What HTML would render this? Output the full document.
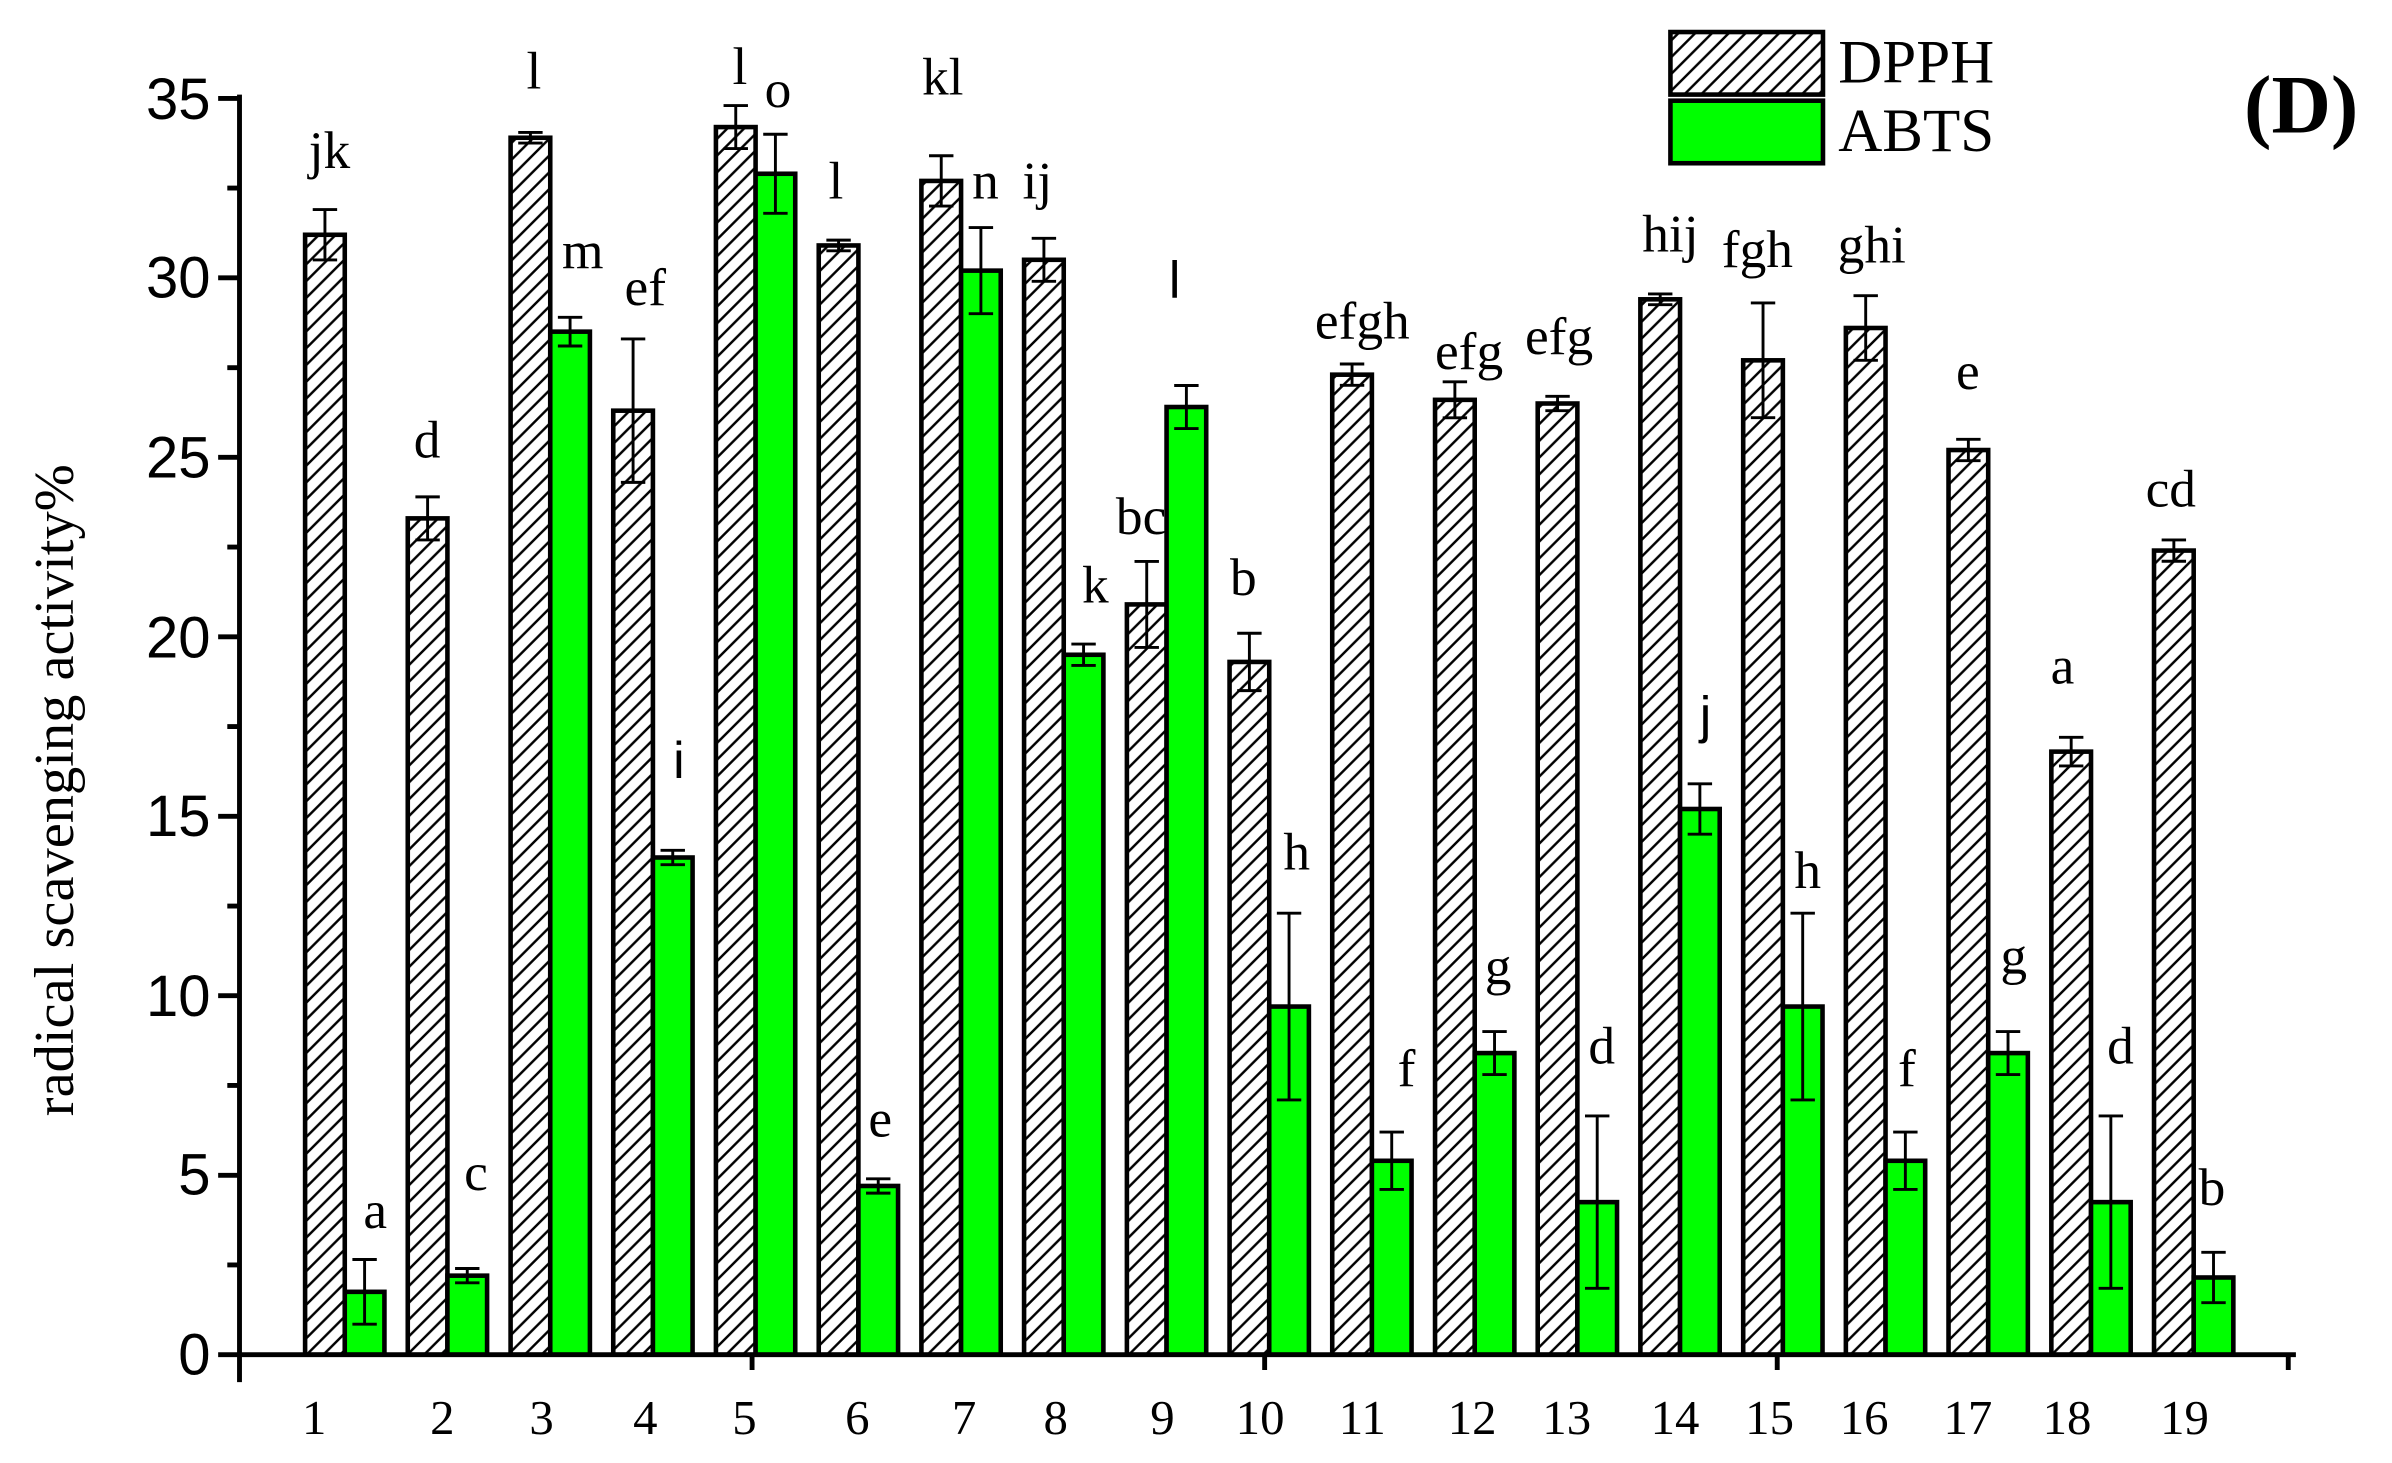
<!DOCTYPE html>
<html><head><meta charset="utf-8"><style>html,body{margin:0;padding:0;background:#fff}svg{display:block}</style></head>
<body>
<svg width="2392" height="1463" viewBox="0 0 1568 959" preserveAspectRatio="none" xmlns="http://www.w3.org/2000/svg">
<defs>
<pattern id="h" patternUnits="userSpaceOnUse" width="11" height="11">
<path d="M-2,13 L13,-2 M-2,2 L2,-2 M9,13 L13,9" stroke="#000" stroke-width="1.6"/>
</pattern>
</defs>
<rect width="1568" height="959" fill="#fff"/>
<g stroke="#000" stroke-width="3">
<g fill="url(#h)">
<rect x="200" y="153.9" width="26" height="734.1"/>
<rect x="267.3" y="339.8" width="26" height="548.2"/>
<rect x="334.7" y="90.3" width="26" height="797.7"/>
<rect x="402" y="269.2" width="26" height="618.8"/>
<rect x="469.3" y="83.3" width="26" height="804.7"/>
<rect x="536.7" y="160.9" width="26" height="727.1"/>
<rect x="604" y="118.6" width="26" height="769.4"/>
<rect x="671.3" y="170.3" width="26" height="717.7"/>
<rect x="738.7" y="396.2" width="26" height="491.8"/>
<rect x="806" y="433.9" width="26" height="454.1"/>
<rect x="873.3" y="245.6" width="26" height="642.4"/>
<rect x="940.7" y="262.1" width="26" height="625.9"/>
<rect x="1008" y="264.5" width="26" height="623.5"/>
<rect x="1075.3" y="196.2" width="26" height="691.8"/>
<rect x="1142.7" y="236.2" width="26" height="651.8"/>
<rect x="1210" y="215" width="26" height="673"/>
<rect x="1277.3" y="295" width="26" height="593"/>
<rect x="1344.7" y="492.7" width="26" height="395.3"/>
<rect x="1412" y="360.9" width="26" height="527.1"/>
</g>
<g fill="#00ff00">
<rect x="226" y="846.8" width="26" height="41.2"/>
<rect x="293.3" y="836.2" width="26" height="51.8"/>
<rect x="360.7" y="217.4" width="26" height="670.6"/>
<rect x="428" y="562.1" width="26" height="325.9"/>
<rect x="495.3" y="113.9" width="26" height="774.1"/>
<rect x="562.7" y="777.4" width="26" height="110.6"/>
<rect x="630" y="177.4" width="26" height="710.6"/>
<rect x="697.3" y="429.2" width="26" height="458.8"/>
<rect x="764.7" y="266.8" width="26" height="621.2"/>
<rect x="832" y="659.8" width="26" height="228.2"/>
<rect x="899.3" y="760.9" width="26" height="127.1"/>
<rect x="966.7" y="690.3" width="26" height="197.7"/>
<rect x="1034" y="788" width="26" height="100"/>
<rect x="1101.3" y="530.3" width="26" height="357.7"/>
<rect x="1168.7" y="659.8" width="26" height="228.2"/>
<rect x="1236" y="760.9" width="26" height="127.1"/>
<rect x="1303.3" y="690.3" width="26" height="197.7"/>
<rect x="1370.7" y="788" width="26" height="100"/>
<rect x="1438" y="837.4" width="26" height="50.6"/>
</g>
</g>
<path fill="none" stroke="#000" stroke-width="1.9" d="
M213,137.4V170.4M205,137.4h16M205,170.4h16
M280.3,325.7V353.9M272.3,325.7h16M272.3,353.9h16
M347.7,86.8V93.8M339.7,86.8h16M339.7,93.8h16
M415,222.2V316.2M407,222.2h16M407,316.2h16
M482.3,69.2V97.4M474.3,69.2h16M474.3,97.4h16
M549.7,157.4V164.4M541.7,157.4h16M541.7,164.4h16
M617,102.1V135.1M609,102.1h16M609,135.1h16
M684.3,156.2V184.4M676.3,156.2h16M676.3,184.4h16
M751.7,368V424.4M743.7,368h16M743.7,424.4h16
M819,415.1V452.7M811,415.1h16M811,452.7h16
M886.3,238.6V252.6M878.3,238.6h16M878.3,252.6h16
M953.7,250.3V273.9M945.7,250.3h16M945.7,273.9h16
M1021,259.8V269.2M1013,259.8h16M1013,269.2h16
M1088.3,192.7V199.7M1080.3,192.7h16M1080.3,199.7h16
M1155.7,198.6V273.8M1147.7,198.6h16M1147.7,273.8h16
M1223,193.8V236.2M1215,193.8h16M1215,236.2h16
M1290.3,288V302M1282.3,288h16M1282.3,302h16
M1357.7,483.3V502.1M1349.7,483.3h16M1349.7,502.1h16
M1425,353.9V367.9M1417,353.9h16M1417,367.9h16
M239,825.6V868M231,825.6h16M231,868h16
M306.3,831.5V840.9M298.3,831.5h16M298.3,840.9h16
M373.7,208V226.8M365.7,208h16M365.7,226.8h16
M441,557.4V566.8M433,557.4h16M433,566.8h16
M508.3,88V139.8M500.3,88h16M500.3,139.8h16
M575.7,772.7V782.1M567.7,772.7h16M567.7,782.1h16
M643,149.2V205.6M635,149.2h16M635,205.6h16
M710.3,422.2V436.2M702.3,422.2h16M702.3,436.2h16
M777.7,252.7V280.9M769.7,252.7h16M769.7,280.9h16
M845,598.6V721M837,598.6h16M837,721h16
M912.3,742.1V779.7M904.3,742.1h16M904.3,779.7h16
M979.7,676.2V704.4M971.7,676.2h16M971.7,704.4h16
M1047,731.5V844.5M1039,731.5h16M1039,844.5h16
M1114.3,513.8V546.8M1106.3,513.8h16M1106.3,546.8h16
M1181.7,598.6V721M1173.7,598.6h16M1173.7,721h16
M1249,742.1V779.7M1241,742.1h16M1241,779.7h16
M1316.3,676.2V704.4M1308.3,676.2h16M1308.3,704.4h16
M1383.7,731.5V844.5M1375.7,731.5h16M1375.7,844.5h16
M1451,820.9V853.9M1443,820.9h16M1443,853.9h16"/>
<path fill="none" stroke="#000" stroke-width="3.2" d="M157,62V888H1505
M143,888h14M143,770.4h14M143,652.7h14M143,535.1h14M143,417.4h14M143,299.8h14M143,182.1h14M143,64.5h14
M149,829.2h8M149,711.5h8M149,593.9h8M149,476.3h8M149,358.6h8M149,241h8M149,123.3h8
M157,888v18M493,888v10M829,888v10M1165,888v10M1500,888v10"/>
<g font-family="Liberation Sans, sans-serif" font-size="38" text-anchor="end">
<text x="138" y="901">0</text><text x="138" y="783">5</text><text x="138" y="666">10</text><text x="138" y="548">15</text><text x="138" y="431">20</text><text x="138" y="313">25</text><text x="138" y="195">30</text><text x="138" y="78">35</text>
</g>
<g font-family="Liberation Serif, serif" font-size="32" text-anchor="middle">
<text x="206" y="940">1</text><text x="290" y="940">2</text><text x="355" y="940">3</text><text x="423" y="940">4</text><text x="488" y="940">5</text><text x="562" y="940">6</text><text x="632" y="940">7</text><text x="692" y="940">8</text><text x="762" y="940">9</text><text x="826" y="940">10</text><text x="893" y="940">11</text><text x="965" y="940">12</text><text x="1027" y="940">13</text><text x="1098" y="940">14</text><text x="1160" y="940">15</text><text x="1222" y="940">16</text><text x="1290" y="940">17</text><text x="1355" y="940">18</text><text x="1432" y="940">19</text>
</g>
<text transform="translate(48,518) rotate(-90)" font-family="Liberation Serif, serif" font-size="37" text-anchor="middle">radical scavenging activity%</text>
<g font-family="Liberation Serif, serif" font-size="35" text-anchor="middle">
<text x="216" y="110">jk</text><text x="280" y="300">d</text><text x="350" y="58">l</text><text x="423" y="200">ef</text><text x="485" y="55">l</text><text x="548" y="130">l</text><text x="618" y="62">kl</text><text x="680" y="130">ij</text><text x="748" y="350">bc</text><text x="815" y="390">b</text><text x="893" y="222">efgh</text><text x="963" y="242">efg</text><text x="1022" y="232">efg</text><text x="1095" y="165">hij</text><text x="1152" y="175">fgh</text><text x="1227" y="172">ghi</text><text x="1290" y="255">e</text><text x="1352" y="448">a</text><text x="1423" y="332">cd</text>
<text x="246" y="805">a</text><text x="312" y="780">c</text><text x="382" y="176">m</text><text x="510" y="70">o</text><text x="577" y="745">e</text><text x="646" y="130">n</text><text x="718" y="395">k</text><text x="850" y="570">h</text><text x="922" y="712">f</text><text x="982" y="645">g</text><text x="1050" y="697">d</text><text x="1185" y="582">h</text><text x="1250" y="712">f</text><text x="1320" y="638">g</text><text x="1390" y="697">d</text><text x="1450" y="790">b</text>
</g>
<g font-family="Liberation Sans, sans-serif" font-size="34" text-anchor="middle">
<text x="445" y="510">i</text><text x="770" y="195">l</text><text x="1118" y="480">j</text>
</g>
<rect x="1095" y="21" width="100" height="41" fill="url(#h)" stroke="#000" stroke-width="3"/>
<rect x="1095" y="66" width="100" height="41" fill="#00ff00" stroke="#000" stroke-width="3"/>
<g font-family="Liberation Serif, serif" font-size="40">
<text x="1205" y="54">DPPH</text><text x="1205" y="99">ABTS</text>
</g>
<text x="1471" y="87" font-family="Liberation Serif, serif" font-size="54" font-weight="bold">(D)</text>
</svg>
</body></html>
